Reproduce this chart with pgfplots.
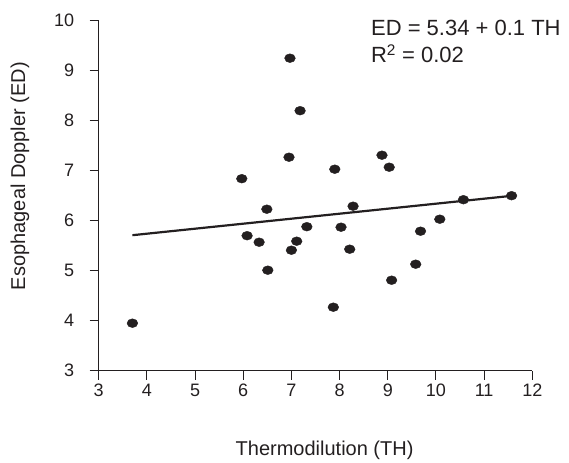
\documentclass[border=0pt]{standalone}
\usepackage{pgfplots}
\pgfplotsset{compat=1.18}
\usepackage{fontspec}
\setmainfont{Liberation Sans}
\definecolor{ink}{HTML}{231F20}
\begin{document}
\begin{tikzpicture}
\begin{axis}[
  scale only axis, width=433.6pt, height=350pt,
  xmin=3, xmax=12, ymin=3, ymax=10,
  axis x line=bottom, axis y line=left,
  axis line style={-, line width=1.1pt, ink},
  xtick={3,...,12}, ytick={3,...,10},
  tick align=outside, major tick length=9pt,
  tick style={line width=1.1pt, ink},
  ticklabel style={font=\fontsize{18}{20}\selectfont, text=ink},
  yticklabel style={xshift=-12pt},
  xticklabel style={yshift=-1pt},
  /pgf/number format/assume math mode=true,
  xlabel={Thermodilution (TH)}, ylabel={Esophageal Doppler (ED)},
  label style={font=\fontsize{20}{24}\selectfont, text=ink},
  xlabel style={at={(axis description cs:0.521,-0.2409)}, anchor=base},
  ylabel style={at={(axis description cs:-0.1815,0.556)}, anchor=center, rotate=0},
  clip=false,
]
\path (axis cs:3,3) ++(-98.7pt,-88.3pt) rectangle ++(569pt,459pt);
\addplot[only marks, mark=*, mark size=4.4pt, color=ink, mark options={xscale=1.22}] coordinates {
(6.97,9.25) (7.18,8.20) (6.95,7.27) (5.97,6.84) (8.88,7.31) (9.03,7.07) (7.90,7.03)
(6.49,6.23) (6.08,5.70) (6.33,5.57) (6.51,5.01) (7.00,5.41) (7.11,5.59) (7.32,5.88)
(3.70,3.95) (8.28,6.29) (8.03,5.87) (8.21,5.43) (7.87,4.27) (9.08,4.81) (9.58,5.13)
(9.68,5.79) (10.08,6.03) (10.57,6.42) (11.57,6.50)
};
\addplot[line width=2.2pt, color=ink] coordinates {(3.7,5.71) (11.6,6.50)};
\node[anchor=base west, inner sep=0, font=\fontsize{22}{26}\selectfont, text=ink] at (axis cs:8.65,9.694) {ED = 5.34 + 0.1 TH};
\node[anchor=base west, inner sep=0, font=\fontsize{22}{26}\selectfont, text=ink] at (axis cs:8.65,9.16) {R\textsuperscript{2} = 0.02};
\end{axis}
\end{tikzpicture}
\end{document}
